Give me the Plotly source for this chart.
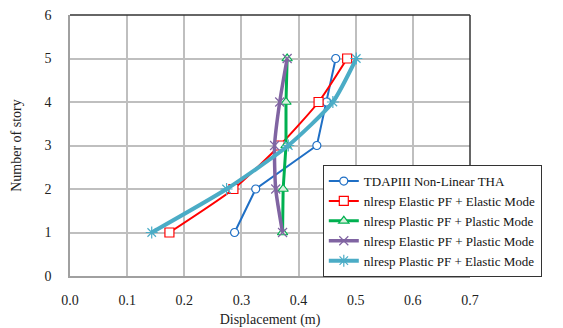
import plotly.graph_objects as go

stories = [1, 2, 3, 4, 5]
tdap = [0.288, 0.325, 0.432, 0.449, 0.465]
el_el = [0.174, 0.286, 0.367, 0.435, 0.485]
pl_pl = [0.372, 0.373, 0.378, 0.378, 0.380]
el_pl = [0.372, 0.360, 0.358, 0.367, 0.380]
pl_el = [0.143, 0.274, 0.382, 0.460, 0.501]

names = ["TDAPIII Non-Linear THA", "nlresp Elastic PF + Elastic Mode",
         "nlresp Plastic PF + Plastic Mode", "nlresp Elastic PF + Plastic Mode",
         "nlresp Plastic PF + Elastic Mode"]

fig = go.Figure()
specs = [
    ("#1F6FC5", 2, "circle", 8, "white", "linear"),
    ("#FF0000", 2, "square", 9, "white", "spline"),
    ("#00B050", 3, "triangle-up", 9, "#D8F0DC", "linear"),
    ("#8064A2", 3.5, "x-thin", 9, "#8064A2", "spline"),
    ("#4BACC6", 4, "asterisk", 10, "#4BACC6", "spline"),
]
for vals, name, (col, lw, sym, ms, fill, shape) in zip(
        [tdap, el_el, pl_pl, el_pl, pl_el], names, specs):
    marker = dict(symbol=sym, size=ms, color=fill, line=dict(color=col, width=1.2))
    if sym in ("x-thin", "asterisk"):
        marker = dict(symbol=sym + "-open", size=ms, color=col, line=dict(color=col, width=1.2))
    fig.add_trace(go.Scatter(x=vals, y=stories, name=name, mode="lines+markers",
                             line=dict(color=col, width=lw, shape=shape, smoothing=0.6),
                             marker=marker))

font = "Liberation Serif"
fig.update_layout(
    width=563, height=328,
    margin=dict(l=70, r=92.5, t=15, b=52),
    paper_bgcolor="white", plot_bgcolor="white",
    font=dict(family=font, size=14, color="#222"),
    showlegend=True,
    legend=dict(x=0.632, y=0.425, xanchor="left", yanchor="top",
                bgcolor="white", bordercolor="#333", borderwidth=1,
                font=dict(family=font, size=13, color="#111"),
                tracegroupgap=0, itemwidth=30),
    xaxis=dict(range=[0, 0.7], dtick=0.1, tickformat=".1f", automargin=False,
               showgrid=True, gridcolor="#BFBFBF", gridwidth=1.5,
               zeroline=False, showline=True, linecolor="#A0A0A0", linewidth=1.5,
               mirror=False, ticks="", ticklen=0, ticklabelstandoff=10,
               tickfont=dict(family=font, size=14),
               title=dict(text="Displacement (m)", standoff=8, font=dict(family=font, size=14))),
    yaxis=dict(range=[0, 6], dtick=1, automargin=False,
               showgrid=True, gridcolor="#BFBFBF", gridwidth=1.5,
               zeroline=False, showline=True, linecolor="#A0A0A0", linewidth=1.5,
               ticks="", ticklabelstandoff=14,
               tickfont=dict(family=font, size=14),
               title=dict(text="Number of story", standoff=20, font=dict(family=font, size=14))),
)
fig.add_shape(type="line", xref="paper", yref="paper", x0=0, x1=1, y0=1, y1=1,
              line=dict(color="#333", width=1.5))
fig.add_shape(type="line", xref="paper", yref="paper", x0=1, x1=1, y0=0, y1=1,
              line=dict(color="#333", width=1.5))

fig.write_html("out.html")
